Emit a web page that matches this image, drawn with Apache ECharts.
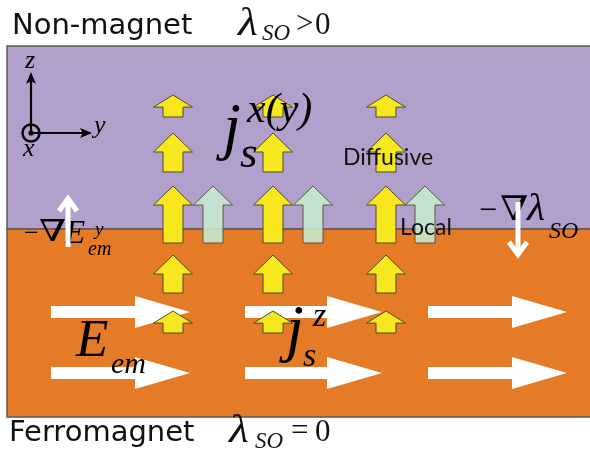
<!DOCTYPE html>
<html><head><meta charset="utf-8">
<script src="https://cdn.jsdelivr.net/npm/echarts@6/dist/echarts.min.js"></script>
<style>html,body{margin:0;padding:0;background:#fff}#c{width:590px;height:456px}</style>
</head><body><div id="c"></div>
<script>
// ---- data (diagram coordinates: x 0..590, y 0..456 downward) ----
const layers = [[7,46,592,229],[7,229,592,417]];            // [x0,y0,x1,y1]  non-magnet, ferromagnet
const yellowArrows = [                                       // [centerX, tipY, tailY]
  [173,95,117],[273,95,117],[386,95,117],
  [173,133,172],[273,133,172],[386,133,172],
  [173,186,243],[273,186,243],[386,186,243],
  [173,255,293],[273,255,293],[386,255,293],
  [173,311,333],[273,311,333],[386,311,333]
];
const greenArrows = [[213,186,243],[313,186,243],[425,186,243]];
const fieldArrows = [                                        // [startX, tipX, centerY]
  [51,190,312],[245,382,312],[428,567,312],
  [51,190,373],[245,382,373],[428,567,373]
];
const gradArrows = [[68,197,247],[518,256,202]];             // [x, tipY, tailY]
const frame = [[31,133,72,92]];                              // [originX, originY, zTipY, yTipX]

const chart = echarts.init(document.getElementById('c'), null, {renderer:'canvas'});

function P(api,x,y){ return api.coord([x,y]); }

function renderLayer(params, api){
  const a = P(api, api.value(0), api.value(1)), b = P(api, api.value(2), api.value(3));
  const fill = params.dataIndex === 0 ? '#B1A0CB' : '#E57B26';
  return {type:'rect', shape:{x:a[0], y:a[1], width:b[0]-a[0], height:b[1]-a[1]},
    style:{fill:fill, stroke:'#5a5a5a', lineWidth:1.5}};
}
function makeUp(fill, opacity){
  return function(params, api){
    const cx = api.value(0), yt = api.value(1), yb = api.value(2);
    const hh = Math.min(19, (yb-yt)*0.55);
    const pts = [P(api,cx,yt), P(api,cx+19.5,yt+hh), P(api,cx+10,yt+hh), P(api,cx+10,yb),
                 P(api,cx-10,yb), P(api,cx-10,yt+hh), P(api,cx-19.5,yt+hh)];
    return {type:'polygon', shape:{points:pts}, style:{fill:fill, stroke:'#4d4a30', lineWidth:1, opacity:opacity}};
  };
}
function renderField(params, api){
  const x0 = api.value(0), x1 = api.value(1), y = api.value(2);
  const hb = x1 - 55;
  const pts = [P(api,x0,y-6),P(api,hb,y-6),P(api,hb,y-16),P(api,x1,y),P(api,hb,y+16),P(api,hb,y+6),P(api,x0,y+6)];
  return {type:'polygon', shape:{points:pts}, style:{fill:'#ffffff'}};
}
function renderGrad(params, api){
  const x = api.value(0), yt = api.value(1), yb = api.value(2);
  const d = yb > yt ? 1 : -1;
  const a = P(api,x,yt), b = P(api,x,yb);
  const l = P(api,x-9,yt+14*d), r = P(api,x+9,yt+14*d);
  return {type:'group', children:[
    {type:'line', shape:{x1:a[0],y1:a[1]+2*d,x2:b[0],y2:b[1]}, style:{stroke:'#fff', lineWidth:5}},
    {type:'polyline', shape:{points:[l,[a[0],a[1]+1.5*d],r]}, style:{stroke:'#fff', lineWidth:5, fill:null, lineJoin:'miter'}}
  ]};
}
function renderFrame(params, api){
  const ox = api.value(0), oy = api.value(1), zt = api.value(2), yt = api.value(3);
  const o = P(api,ox,oy), z = P(api,ox,zt), y = P(api,yt,oy);
  return {type:'group', children:[
    {type:'line', shape:{x1:o[0],y1:o[1],x2:z[0],y2:z[1]+8}, style:{stroke:'#000', lineWidth:2.2}},
    {type:'polygon', shape:{points:[[z[0],z[1]],[z[0]-5,z[1]+12],[z[0],z[1]+9],[z[0]+5,z[1]+12]]}, style:{fill:'#000'}},
    {type:'line', shape:{x1:o[0],y1:o[1],x2:y[0]-8,y2:y[1]}, style:{stroke:'#000', lineWidth:2.2}},
    {type:'polygon', shape:{points:[[y[0],y[1]],[y[0]-12,y[1]-5],[y[0]-9,y[1]],[y[0]-12,y[1]+5]]}, style:{fill:'#000'}},
    {type:'circle', shape:{cx:o[0],cy:o[1],r:8.5}, style:{fill:null, stroke:'#000', lineWidth:2.5}},
    {type:'circle', shape:{cx:o[0],cy:o[1],r:2.6}, style:{fill:'#000'}}
  ]};
}

const SERIF = '"Liberation Serif","DejaVu Serif",serif';
function T(str, x, base, size, fam, italic, color, sx){
  return {type:'text', z:5, x:x, y:base - 0.33*size, scaleX: sx||1, silent:true,
    style:{text:str, fill:color||'#111', font:(italic?'italic ':'')+size+'px '+fam,
      align:'left', verticalAlign:'middle', textAlign:'left', textVerticalAlign:'middle'}};
}
const SANS = '"DejaVu Sans",sans-serif';
const CAL = 'Lato,"Open Sans",sans-serif';
const texts = [
  T('Non-magnet',12,36,29,SANS,false,'#111'),
  T('λ',238,38,40,SERIF,true,'#111',1.15),
  T('SO',262,42,23,SERIF,true,'#111'),
  T('>',296,35,31,SERIF,false,'#111'),
  T('0',315,36,31,SERIF,false,'#111'),
  T('Ferromagnet',9,443,29,SANS,false,'#111'),
  T('λ',229,445,40,SERIF,true,'#111',1.15),
  T('SO',255,450,23,SERIF,true,'#111'),
  T('=',291,442,31,SERIF,false,'#111'),
  T('0',315,443,31,SERIF,false,'#111'),
  T('z',25,70,26,SERIF,true,'#000'),
  T('y',94,135,26,SERIF,true,'#000'),
  T('x',23,158,26,SERIF,true,'#000'),
  T('j',223,151,64,SERIF,true,'#000'),
  T('s',240,170,45,SERIF,true,'#000'),
  T('x(y)',247,125,42,SERIF,true,'#000'),
  T('Diffusive',343,165,23,CAL,false,'#111'),
  T('Local',400,235,23,CAL,false,'#111'),
  T('−',24,243,26,SERIF,false,'#000'),
  T('∇',39,243,30,SERIF,false,'#000',1.3),
  T('E',65,245,33,SERIF,true,'#000'),
  T('y',95,236,19,SERIF,true,'#000'),
  T('em',88,256,20,SERIF,true,'#000'),
  T('−',479,222,32,SERIF,false,'#000'),
  T('∇',500,222,34,SERIF,false,'#000',1.2),
  T('λ',527,223,38,SERIF,true,'#000',1.1),
  T('SO',549,240,24,SERIF,true,'#000'),
  T('E',76,360,53,SERIF,true,'#000'),
  T('em',111,375,30,SERIF,true,'#000'),
  T('j',286,353,64,SERIF,true,'#000'),
  T('z',313,328,34,SERIF,true,'#000'),
  T('s',303,368,34,SERIF,true,'#000')
];

chart.setOption({
  animation:false,
  grid:{left:0,right:0,top:0,bottom:0},
  xAxis:{type:'value',min:0,max:590,show:false},
  yAxis:{type:'value',min:0,max:456,inverse:true,show:false},
  series:[
    {type:'custom', z:1, data:layers, renderItem:renderLayer, silent:true},
    {type:'custom', z:2, data:fieldArrows, renderItem:renderField, silent:true},
    {type:'custom', z:3, data:greenArrows, renderItem:makeUp('#C6EAD0',0.88), silent:true},
    {type:'custom', z:4, data:yellowArrows, renderItem:makeUp('#F6E71F',1), silent:true},
    {type:'custom', z:10, data:gradArrows, renderItem:renderGrad, silent:true},
    {type:'custom', z:10, data:frame, renderItem:renderFrame, silent:true}
  ],
  graphic:texts
});
</script></body></html>
